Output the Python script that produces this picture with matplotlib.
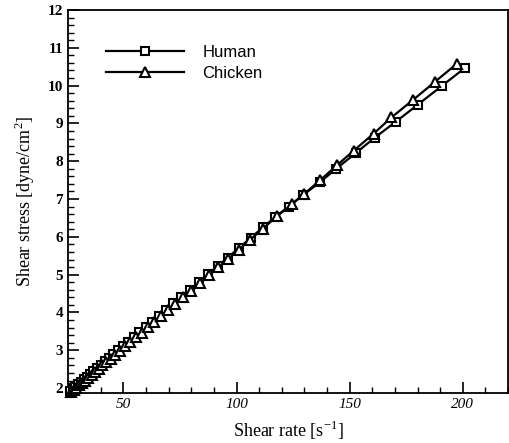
import matplotlib
matplotlib.use("Agg")
import matplotlib.pyplot as plt
from matplotlib.ticker import MultipleLocator

# Shear rate [1/s] and shear stress [dyne/cm^2]
human_rate = [26.5, 27.6, 28.7, 29.9, 31.1, 32.4, 33.8, 35.2, 36.7, 38.3, 40.0, 41.8,
              43.6, 45.6, 47.6, 49.8, 52.1, 54.5, 57.1, 59.8, 62.6, 65.6, 68.8, 72.1,
              75.6, 79.3, 83.2, 87.3, 91.6, 96.1, 101.0, 106.2, 111.7, 117.0, 123.0,
              129.3, 137.0, 144.0, 152.6, 161.0, 170.3, 180.0, 190.7, 201.0]
human_stress = [1.93, 1.99, 2.04, 2.10, 2.16, 2.23, 2.30, 2.37, 2.45, 2.53, 2.62, 2.71,
                2.80, 2.90, 3.00, 3.11, 3.23, 3.35, 3.48, 3.62, 3.76, 3.91, 4.07, 4.24,
                4.42, 4.60, 4.80, 5.01, 5.22, 5.45, 5.70, 5.97, 6.25, 6.52, 6.80,
                7.10, 7.45, 7.80, 8.21, 8.62, 9.04, 9.49, 9.99, 10.47]

chicken_rate = [27.0, 28.1, 29.2, 30.4, 31.7, 33.0, 34.4, 35.9, 37.4, 39.0, 40.7, 42.5,
                44.4, 46.4, 48.5, 50.7, 53.0, 55.4, 58.0, 60.7, 63.5, 66.5, 69.6, 72.9,
                76.4, 80.0, 83.8, 87.8, 92.0, 96.4, 101.0, 106.0, 111.5, 117.8, 124.4,
                130.0, 137.0, 144.3, 151.8, 160.6, 168.5, 178.0, 187.7, 197.4]
chicken_stress = [1.90, 1.96, 2.01, 2.07, 2.13, 2.20, 2.27, 2.35, 2.43, 2.51, 2.60, 2.69,
                  2.78, 2.88, 2.99, 3.10, 3.22, 3.34, 3.47, 3.61, 3.75, 3.90, 4.06, 4.22,
                  4.40, 4.58, 4.77, 4.98, 5.19, 5.42, 5.66, 5.92, 6.21, 6.54, 6.86,
                  7.14, 7.50, 7.89, 8.28, 8.73, 9.16, 9.62, 10.10, 10.58]

x_ticks = [50, 100, 150, 200]
y_ticks = [2, 3, 4, 5, 6, 7, 8, 9, 10, 11, 12]

fig = plt.figure(figsize=(5.09, 4.43), dpi=100)
ax = fig.add_axes([68/509, 1-393/443, (508-68)/509, (393-10)/443])

ax.plot(human_rate, human_stress, color='black', lw=1.6, marker='s', ms=6,
        mfc='white', mec='black', mew=1.5, label='Human', clip_on=False, zorder=3)
ax.plot(chicken_rate, chicken_stress, color='black', lw=1.6, marker='^', ms=6.5,
        mfc='white', mec='black', mew=1.5, label='Chicken', clip_on=False, zorder=3)

ax.set_xlim(25.5, 220)
ax.set_ylim(1.87, 12)
ax.set_xticks(x_ticks)
ax.set_yticks(y_ticks)
ax.xaxis.set_minor_locator(MultipleLocator(10))
ax.yaxis.set_minor_locator(MultipleLocator(0.2))
ax.tick_params(which='major', direction='in', length=8, width=1.2)
ax.tick_params(which='minor', direction='in', length=4.5, width=1.0)
ax.tick_params(axis='both', which='both', top=False, right=False)
for s in ax.spines.values():
    s.set_linewidth(1.3)

for lab in ax.get_xticklabels():
    lab.set_family('Liberation Serif')
    lab.set_style('italic')
    lab.set_fontsize(11)
for lab in ax.get_yticklabels():
    lab.set_family('Liberation Serif')
    lab.set_weight('bold')
    lab.set_fontsize(11)

ax.set_xlabel('Shear rate [s$^{\\mathregular{-1}}$]', family='Liberation Serif', fontsize=13, labelpad=6)
ax.set_ylabel('Shear stress [dyne/cm$^{\\mathregular{2}}$]', family='Liberation Serif', fontsize=13, labelpad=8)

leg = ax.legend(loc='upper left', bbox_to_anchor=(0.052, 0.948), frameon=False,
                handlelength=4.7, handletextpad=1.1, labelspacing=0.35,
                prop={'family': 'Liberation Sans', 'size': 12})

fig.savefig('out.png', dpi=100)
